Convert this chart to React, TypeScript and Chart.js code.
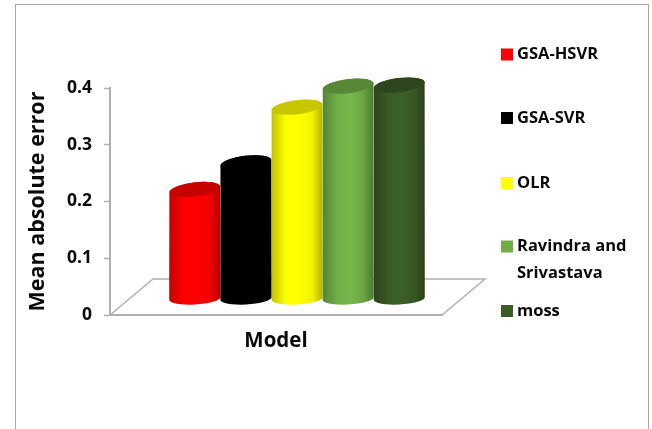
import { useEffect, useRef } from "react";
import Chart from "chart.js/auto";

const categories = ["Model"];
const models = ["GSA-HSVR", "GSA-SVR", "OLR", "Ravindra and Srivastava", "moss"];
const meanAbsoluteError = [0.193, 0.24, 0.338, 0.375, 0.377];
const seriesColors = ["#ff0000", "#000000", "#ffff00", "#70ad47", "#3a5a26"];
const legendLines = [["GSA-HSVR"], ["GSA-SVR"], ["OLR"], ["Ravindra and", "Srivastava"], ["moss"]];
const yTicks = [0, 0.1, 0.2, 0.3, 0.4];

const FONT = "'Open Sans', Lato, sans-serif";
const AXIS_GRAY = "#b0b0b0";

// Oblique projection of the chart floor, in pixels per full chart depth.
const FLOOR_DX = 43;
const FLOOR_DY = -36;
// Cylinders stand partway back on the floor.
const BAR_DX = 21;
const BAR_DY = -16;

function shade(hex: string, factor: number): string {
  const n = parseInt(hex.slice(1), 16);
  const channel = (v: number) => Math.max(0, Math.min(255, Math.round(v * factor)));
  return `rgb(${channel((n >> 16) & 255)},${channel((n >> 8) & 255)},${channel(n & 255)})`;
}

const floorPlugin = {
  id: "floor",
  beforeDatasetsDraw(chart: any) {
    const { left, right, bottom } = chart.chartArea;
    const ctx = chart.ctx;
    ctx.save();
    ctx.strokeStyle = AXIS_GRAY;
    ctx.lineWidth = 1.5;
    ctx.beginPath();
    ctx.moveTo(left, bottom);
    ctx.lineTo(left + FLOOR_DX, bottom + FLOOR_DY);
    ctx.lineTo(right + FLOOR_DX, bottom + FLOOR_DY);
    ctx.lineTo(right, bottom);
    ctx.stroke();
    ctx.restore();
  },
};

// Replaces each flat bar with a shaded cylinder using the bar's own scale geometry.
const cylinderPlugin = {
  id: "cylinder",
  beforeDatasetDraw(chart: any, args: any) {
    const bar = args.meta.data[0];
    const color = seriesColors[args.index];
    const { x, y, base, width } = bar;
    const ctx = chart.ctx;
    const rx = width / 2;
    ctx.save();
    ctx.translate(BAR_DX, BAR_DY);
    const gradient = ctx.createLinearGradient(x - rx, 0, x + rx, 0);
    gradient.addColorStop(0, shade(color, 0.76));
    gradient.addColorStop(0.28, shade(color, 1));
    gradient.addColorStop(0.55, shade(color, 1.06));
    gradient.addColorStop(0.8, shade(color, 0.95));
    gradient.addColorStop(1, shade(color, 0.7));
    ctx.fillStyle = gradient;
    ctx.beginPath();
    ctx.ellipse(x, base, rx, 6, (-3 * Math.PI) / 180, 0, Math.PI);
    ctx.ellipse(x, y, rx, 7, (-7 * Math.PI) / 180, Math.PI, 2 * Math.PI);
    ctx.closePath();
    ctx.fill();
    ctx.fillStyle = shade(color, 0.78);
    ctx.beginPath();
    ctx.ellipse(x, y, rx, 7, (-7 * Math.PI) / 180, 0, 2 * Math.PI);
    ctx.fill();
    ctx.restore();
    return false;
  },
};

const LEGEND_X = 501;
const LEGEND_BOX = 12;
const LEGEND_CENTERS = [54.5, 118, 183, 246.5, 311];

const sideLegendPlugin = {
  id: "sideLegend",
  afterDraw(chart: any) {
    const ctx = chart.ctx;
    ctx.save();
    ctx.font = `bold 16.5px ${FONT}`;
    ctx.textBaseline = "middle";
    legendLines.forEach((lines, i) => {
      const cy = LEGEND_CENTERS[i];
      ctx.fillStyle = seriesColors[i];
      ctx.fillRect(LEGEND_X, cy - LEGEND_BOX / 2, LEGEND_BOX, LEGEND_BOX);
      ctx.fillStyle = "#0a0a0a";
      lines.forEach((line, j) => ctx.fillText(line, LEGEND_X + 16, cy + j * 27));
    });
    ctx.restore();
  },
};

export default function App() {
  const canvasRef = useRef<HTMLCanvasElement | null>(null);

  useEffect(() => {
    const chart = new Chart(canvasRef.current as HTMLCanvasElement, {
      type: "bar",
      data: {
        labels: categories,
        datasets: models.map((label, i) => ({
          label,
          data: [meanAbsoluteError[i]],
          backgroundColor: seriesColors[i],
          clip: false as any,
        })),
      },
      plugins: [floorPlugin, cylinderPlugin, sideLegendPlugin],
      options: {
        responsive: false,
        animation: false,
        events: [],
        layout: { padding: { left: 25, right: 210, top: 88, bottom: 54 } },
        datasets: { bar: { barPercentage: 1, categoryPercentage: 0.77 } },
        plugins: { legend: { display: false }, tooltip: { enabled: false }, title: { display: false } },
        scales: {
          x: {
            afterFit(scale: any) {
              scale.height = 60;
            },
            grid: { display: false, drawTicks: false },
            border: { color: AXIS_GRAY, width: 2 },
            ticks: { color: "#0a0a0a", padding: 14, font: { family: FONT, size: 20.5, weight: "bold" } },
          },
          y: {
            min: yTicks[0],
            max: yTicks[yTicks.length - 1],
            afterFit(scale: any) {
              scale.width = 85;
            },
            afterBuildTicks(scale: any) {
              scale.ticks = yTicks.map((value) => ({ value }));
            },
            grid: { drawOnChartArea: false, tickLength: 6, tickWidth: 1.5, tickColor: AXIS_GRAY },
            border: { color: AXIS_GRAY, width: 2 },
            ticks: {
              color: "#0a0a0a",
              padding: 12,
              font: { family: FONT, size: 17.5, weight: "bold" },
              callback: (value: any) => String(value),
            },
            title: {
              display: true,
              text: "Mean absolute error",
              color: "#0a0a0a",
              padding: 0,
              font: { family: FONT, size: 21.5, weight: "bold" },
            },
          },
        },
      },
    } as any);
    return () => chart.destroy();
  }, []);

  return (
    <div style={{ position: "absolute", left: 0, top: 0, width: 652, height: 429, overflow: "hidden", background: "#fff" }}>
      <div
        style={{
          position: "absolute",
          left: 15,
          top: 4,
          width: 632,
          height: 430,
          borderLeft: "1.5px solid #a6a6a6",
          borderTop: "1.5px solid #a6a6a6",
          borderRight: "1.5px solid #a6a6a6",
        }}
      />
      <canvas ref={canvasRef} width={652} height={429} style={{ position: "absolute", left: 0, top: 0 }} />
    </div>
  );
}
